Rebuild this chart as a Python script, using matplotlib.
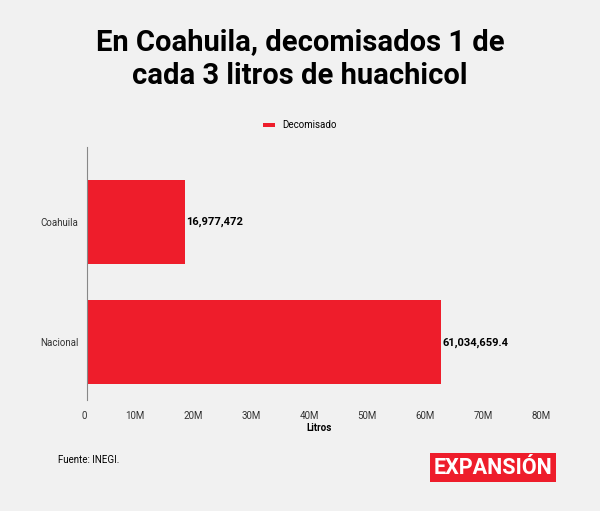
import matplotlib.pyplot as plt
from matplotlib.ticker import FuncFormatter

plt.rcParams['font.family'] = ['Roboto', 'DejaVu Sans']

categorias = ['Coahuila', 'Nacional']
valores = [16977472, 61034659.4]
etiquetas = ['16,977,472', '61,034,659.4']
rojo = '#ee1d2b'
fondo = '#f1f1f1'

fig = plt.figure(figsize=(6, 5.11), dpi=100, facecolor=fondo)
ax = fig.add_axes([0.145, 0.217, 0.773, 0.495], facecolor=fondo)

ys = [0, 1]
ax.barh(ys, valores, height=0.7, color=rojo, label='Decomisado')
for y, v, t in zip(ys, valores, etiquetas):
    ax.text(v + 0.2e6, y, t, va='center', ha='left', fontsize=8, fontweight='bold')

ax.set_ylim(1.48, -0.625)
ax.set_yticks(ys)
ax.set_yticklabels(categorias, fontsize=7, color='#333333')
ax.set_xlim(0, 80e6)
ax.set_xticks([i * 10e6 for i in range(9)])
ax.xaxis.set_major_formatter(FuncFormatter(lambda x, p: '0' if x == 0 else f'{int(x / 1e6)}M'))
for lab in ax.get_xticklabels():
    lab.set_fontsize(7)
    lab.set_color('#333333')
    lab.set_horizontalalignment('right')
ax.tick_params(length=0, pad=6)
ax.tick_params(axis='x', pad=8)
for s in ['top', 'right', 'bottom']:
    ax.spines[s].set_visible(False)
ax.spines['left'].set_color('#888888')
ax.spines['left'].set_linewidth(0.8)
ax.set_xlabel('Litros', fontsize=7, fontweight='bold', labelpad=1)

fig.text(0.5, 0.885, 'En Coahuila, decomisados 1 de\ncada 3 litros de huachicol',
         ha='center', va='center', fontsize=21, fontweight='bold', linespacing=1.25)
fig.legend(loc='center', bbox_to_anchor=(0.5, 0.755), frameon=False, fontsize=7,
           handlelength=1.2, handleheight=0.3)

fig.text(0.097, 0.1, 'Fuente: INEGI.', fontsize=7, va='center')
fig.text(0.822, 0.085, 'EXPANSIÓN', fontsize=15.5, fontweight='bold', color='white',
         ha='center', va='center',
         bbox=dict(boxstyle='square,pad=0.18', facecolor=rojo, edgecolor='none'))

fig.savefig('out.png', dpi=100, facecolor=fondo)
